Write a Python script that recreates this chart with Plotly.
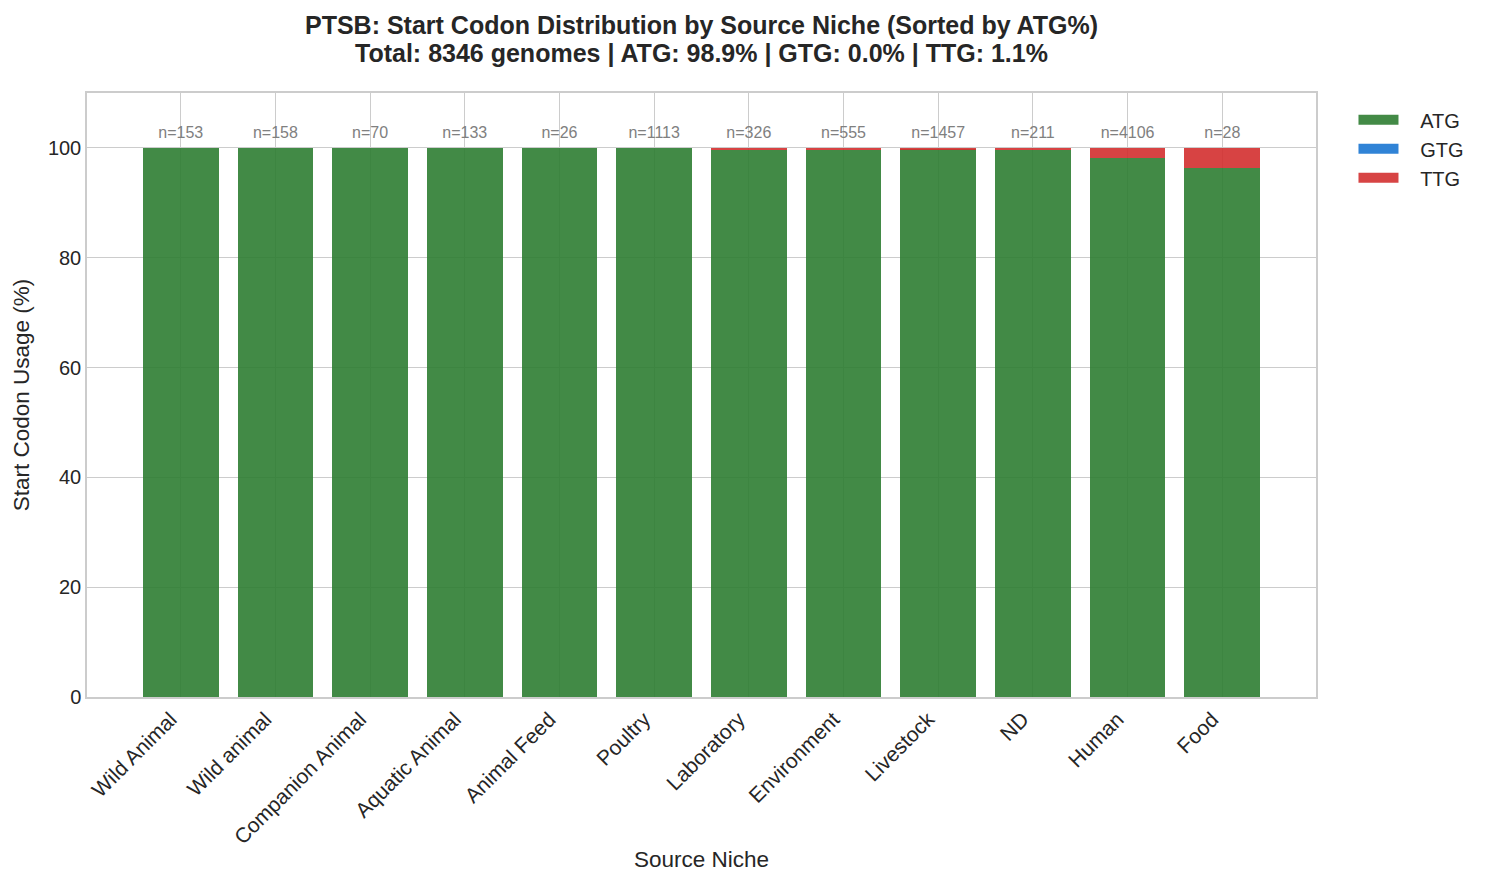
import plotly.graph_objects as go

niches = ["Wild Animal", "Wild animal", "Companion Animal", "Aquatic Animal", "Animal Feed",
          "Poultry", "Laboratory", "Environment", "Livestock", "ND", "Human", "Food"]
counts = [153, 158, 70, 133, 26, 1113, 326, 555, 1457, 211, 4106, 28]
ttg_pct = [0.0, 0.0, 0.0, 0.0, 0.0, 0.0, 0.31, 0.36, 0.27, 0.47, 1.8, 3.57]
gtg_pct = [0.0] * 12
atg_pct = [100 - t - g for t, g in zip(ttg_pct, gtg_pct)]
label_y = [102.5] * 12

title_line1 = "PTSB: Start Codon Distribution by Source Niche (Sorted by ATG%)"
title_line2 = "Total: 8346 genomes | ATG: 98.9% | GTG: 0.0% | TTG: 1.1%"

colors = {"ATG": "#2e7d32", "GTG": "#1976d2", "TTG": "#d32f2f"}
legend_colors = {"ATG": "#438a46", "GTG": "#3083d6", "TTG": "#d74444"}
font = "Liberation Sans, Arial, sans-serif"
pad = "\u00a0\u00a0\u00a0"

fig = go.Figure()
for name, vals in [("ATG", atg_pct), ("GTG", gtg_pct), ("TTG", ttg_pct)]:
    fig.add_trace(go.Bar(x=niches, y=vals, name=name, width=0.8, showlegend=False,
                         legendgroup=name,
                         marker=dict(color=colors[name], opacity=0.9, line=dict(width=0))))
for name in ["ATG", "GTG", "TTG"]:
    fig.add_trace(go.Scatter(x=[None], y=[None], mode="lines", name=pad + name, legendgroup=name,
                             line=dict(color=legend_colors[name], width=15)))

fig.add_trace(go.Scatter(x=niches, y=label_y, mode="text",
                         text=[f"n={c}" for c in counts], showlegend=False,
                         textfont=dict(size=16, color="#808080", family=font),
                         hoverinfo="skip"))

fig.add_annotation(text=f"<b>{title_line1}</b>", xref="paper", yref="paper",
                   x=0.5, y=1.1126, xanchor="center", yanchor="middle", showarrow=False,
                   font=dict(size=25, color="#262626", family=font))
fig.add_annotation(text=f"<b>{title_line2}</b>", xref="paper", yref="paper",
                   x=0.5, y=1.0662, xanchor="center", yanchor="middle", showarrow=False,
                   font=dict(size=25, color="#262626", family=font))

fig.update_layout(
    barmode="stack",
    width=1477, height=878,
    paper_bgcolor="white", plot_bgcolor="white",
    margin=dict(l=79, r=169, t=85, b=189),
    font=dict(family=font, size=20, color="#262626"),
    legend=dict(x=1.0305, y=0.988, xanchor="left", yanchor="top", traceorder="normal",
                font=dict(size=20, color="#262626"), bgcolor="rgba(0,0,0,0)",
                tracegroupgap=0, itemwidth=40),
    xaxis=dict(title=dict(text="Source Niche", font=dict(size=22.5), standoff=4),
               range=[-0.99, 11.99], tickangle=-45, tickfont=dict(size=21),
               ticklabelshift=-10,
               showgrid=True, gridcolor="#cccccc", gridwidth=1.2,
               showline=True, linecolor="#cccccc", linewidth=1.5, mirror=True,
               ticks=""),
    yaxis=dict(title=dict(text="Start Codon Usage (%)", font=dict(size=22.5), standoff=12),
               range=[0, 110], tickvals=[0, 20, 40, 60, 80, 100], tickfont=dict(size=20),
               showgrid=True, gridcolor="#cccccc", gridwidth=1.2, zeroline=False,
               showline=True, linecolor="#cccccc", linewidth=1.5, mirror=True,
               ticks=""),
)

fig.write_html("out.html")
